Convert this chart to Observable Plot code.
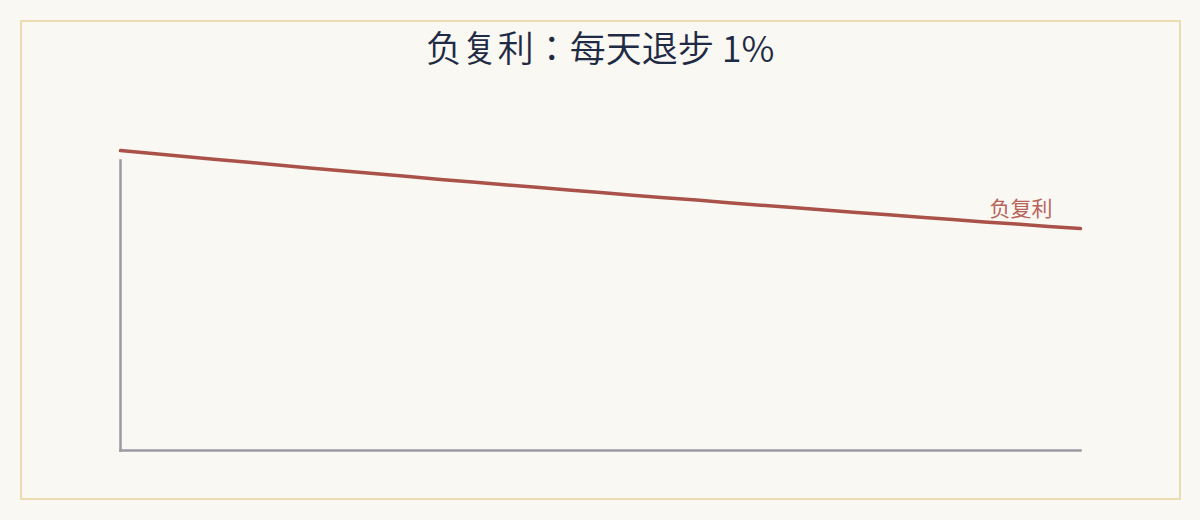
<!DOCTYPE html>
<html>
<head>
<meta charset="utf-8">
<script src="https://cdn.jsdelivr.net/npm/d3@7"></script>
<script src="https://cdn.jsdelivr.net/npm/@observablehq/plot@0.6"></script>
<style>
  html, body { margin: 0; padding: 0; background: #f9f8f3; width: 1200px; height: 520px; overflow: hidden; }
  #card { position: absolute; left: 20px; top: 20px; width: 1157px; height: 476px; border: 2px solid #ecdcb2; box-sizing: content-box; }
  #title { position: absolute; left: 0; top: 25px; width: 1200px; text-align: center; font-family: "Noto Sans CJK JP", "Noto Sans", sans-serif; font-size: 36px; font-weight: 350; color: #1f2a44; line-height: 1.2; }
  #chart { position: absolute; left: 0; top: 0; }
</style>
</head>
<body>
<div id="card"></div>
<div id="title">负复利：每天退步 1%</div>
<div id="chart"></div>
<script>
const titleText = "负复利：每天退步 1%";
const seriesName = "负复利";
const days = d3.range(0, 31);
const values = [1.000, 0.990, 0.980, 0.970, 0.961, 0.951, 0.941, 0.932, 0.923, 0.914,
                0.904, 0.895, 0.886, 0.878, 0.869, 0.860, 0.851, 0.843, 0.835, 0.826,
                0.818, 0.810, 0.802, 0.794, 0.786, 0.778, 0.770, 0.762, 0.755, 0.747, 0.740];
const yDomain = [0, 0.967];

const data = days.map((d, i) => ({day: d, value: values[i]}));
const last = data[data.length - 1];

const plot = Plot.plot({
  width: 1200,
  height: 520,
  marginLeft: 120,
  marginRight: 120,
  marginTop: 160,
  marginBottom: 70,
  style: {background: "transparent", overflow: "visible"},
  x: {domain: [0, 30], axis: null},
  y: {domain: yDomain, axis: null},
  marks: [
    Plot.frame({anchor: "left", stroke: "#9a9aa1", strokeWidth: 2.5}),
    Plot.frame({anchor: "bottom", stroke: "#9a9aa1", strokeWidth: 2.5}),
    Plot.line(data, {x: "day", y: "value", stroke: "#aa5249", strokeWidth: 3.5, clip: false}),
    Plot.text([last], {x: "day", y: "value", text: () => seriesName, textAnchor: "end", dx: -28, dy: -19,
      fill: "#b9625a", fontSize: 21, fontFamily: "Noto Sans CJK SC, sans-serif"})
  ]
});
document.getElementById("chart").appendChild(plot);
</script>
</body>
</html>
